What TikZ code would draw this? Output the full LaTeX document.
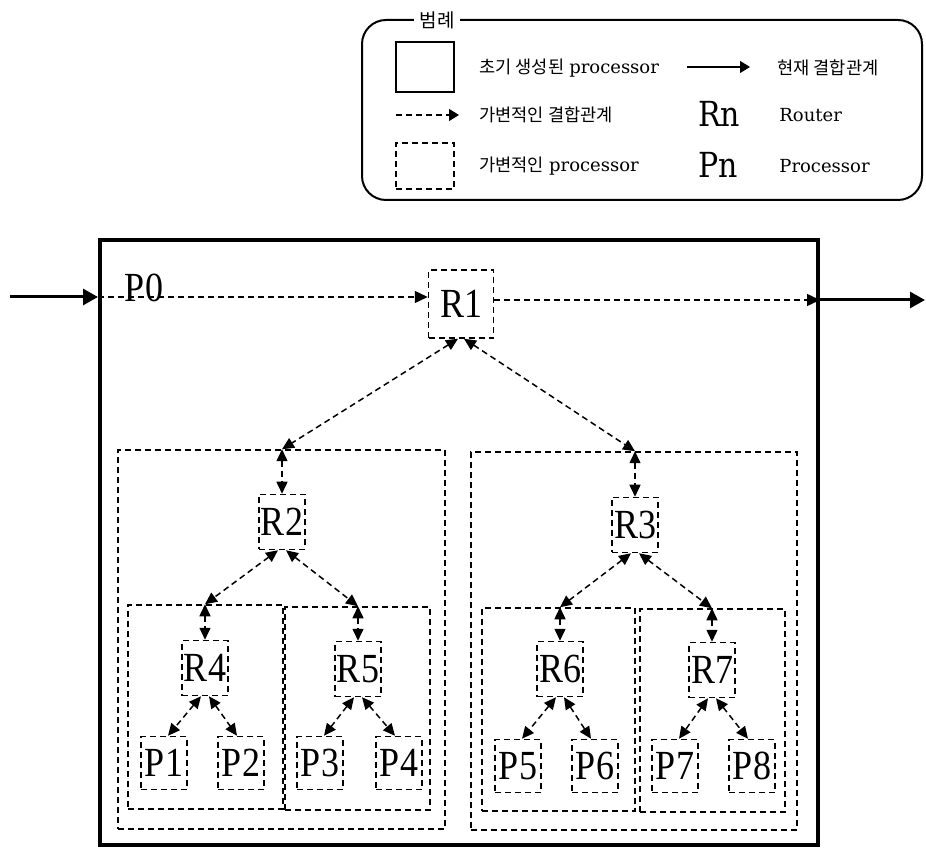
\documentclass[tikz,border=0pt]{standalone}
\usepackage{fontspec}
\usepackage{graphicx}
\setmainfont{Liberation Serif}
\newfontfamily\krfont{Noto Sans CJK KR}
\newfontfamily\lgfont{DejaVu Serif}
\usetikzlibrary{arrows.meta}

% tall Times-style labels for routers and processors
\newcommand\unitlbl[1]{\scalebox{1}[1.15]{\fontsize{18}{18}\selectfont #1}}
\newcommand\kr[1]{{\krfont\fontsize{8.8}{10}\selectfont #1}}
\newcommand\lgtxt[1]{{\lgfont\fontsize{9}{10}\selectfont #1}}
\newcommand\lgbig[1]{\scalebox{1}[1.15]{\lgfont\fontsize{15}{15}\selectfont #1}}

\tikzset{
  dashline/.style={line width=0.75pt, dash pattern=on 3pt off 2pt},
  unitbox/.style={draw, dashline, inner sep=0pt, minimum width=23pt, minimum height=27.5pt},
  gbox/.style={draw, dashline, inner sep=0pt},
  link/.style={dashline, {Triangle[length=6pt,width=5.5pt]}-{Triangle[length=6pt,width=5.5pt]}},
  flow/.style={dashline, -{Triangle[length=6.5pt,width=6pt]}},
  mainflow/.style={line width=1.5pt, -{Triangle[length=7.5pt,width=8pt]}},
  plain/.style={inner sep=0pt, anchor=west},
}

\begin{document}
\begin{tikzpicture}[x=0.5pt, y=-0.5pt]
\useasboundingbox (0,0) rectangle (926,849);

% ---------- legend ----------
\draw[line width=1pt, rounded corners=12pt] (362,20) rectangle (922,200);
\node[fill=white, inner sep=3pt] (LT) at (437,20) {{\krfont\fontsize{9.5}{10}\selectfont 범례}};
\node[draw, line width=0.9pt, inner sep=0pt, minimum width=29pt, minimum height=25pt] (LS) at (425,67) {};
\node[draw, dashline, inner sep=0pt, minimum width=29pt, minimum height=23pt] (LD) at (425,166) {};
\node[plain] (L1) at (479,68) {\kr{초기 생성된} \lgtxt{processor}};
\coordinate (LA1) at (687,67);
\coordinate (LA2) at (750,67);
\draw[line width=0.6pt, -{Triangle[length=5pt,width=6pt]}] (LA1) -- (LA2);
\node[plain] (L2) at (777,68) {\kr{현재 결합관계}};
\coordinate (LB1) at (396,115);
\coordinate (LB2) at (459,115);
\draw[dashline, line width=0.6pt, -{Triangle[length=5pt,width=6pt]}] (LB1) -- (LB2);
\node[plain] (L3) at (479,115) {\kr{가변적인 결합관계}};
\node[plain] (LR) at (698,114) {\lgbig{Rn}};
\node[plain] (LRt) at (779,115) {\lgtxt{Router}};
\node[plain] (L4) at (479,166) {\kr{가변적인} \lgtxt{processor}};
\node[plain] (LP) at (698,165) {\lgbig{Pn}};
\node[plain] (LPt) at (779,166) {\lgtxt{Processor}};

% ---------- initial processor P0 ----------
\node[draw, line width=2pt, inner sep=0pt, minimum width=359pt, minimum height=302.5pt] (M) at (459,542.5) {};
\node[inner sep=0pt] (P0) at (144,288) {\unitlbl{P0}};

% ---------- routers ----------
\node[unitbox, minimum width=32.5pt, minimum height=34pt] (R1) at (461,304) {\unitlbl{R1}};
\node[unitbox] (R2) at (282,522) {\unitlbl{R2}};
\node[unitbox] (R3) at (635,525) {\unitlbl{R3}};
\node[unitbox] (R4) at (205,668) {\unitlbl{R4}};
\node[unitbox] (R5) at (358,669) {\unitlbl{R5}};
\node[unitbox] (R6) at (560,669) {\unitlbl{R6}};
\node[unitbox] (R7) at (712,670) {\unitlbl{R7}};

% ---------- leaf processors ----------
\foreach \n/\x/\y in {1/164/763, 2/241/763, 3/320/763, 4/399/763,
                      5/518/766, 6/595/766, 7/675/766, 8/752/766}
  \node[unitbox, minimum height=26.5pt] (P\n) at (\x,\y) {\unitlbl{P\n}};

% ---------- variable processor groups ----------
\node[gbox, minimum width=163.5pt, minimum height=189.5pt] (G2) at (281.5,639.5) {};
\node[gbox, minimum width=163pt,   minimum height=189pt]   (G3) at (634,641) {};
\node[gbox, minimum width=77.5pt,  minimum height=102pt]   (G4) at (205.5,707) {};
\node[gbox, minimum width=72.5pt,  minimum height=101.5pt] (G5) at (357.5,708.5) {};
\node[gbox, minimum width=76.5pt,  minimum height=101.5pt] (G6) at (558.5,709.5) {};
\node[gbox, minimum width=72.5pt,  minimum height=101.5pt] (G7) at (712.5,710.5) {};

% entry points on the top edge of each group
\coordinate (c2) at (R2 |- G2.north);
\coordinate (c3) at (R3 |- G3.north);
\coordinate (c4) at (R4 |- G4.north);
\coordinate (c5) at (R5 |- G5.north);
\coordinate (c6) at (R6 |- G6.north);
\coordinate (c7) at (R7 |- G7.north);

% ---------- main input / output ----------
\coordinate (in)  at (10,297);
\coordinate (out) at (925,300);
\draw[mainflow] (in) -- (M.west |- in);
\draw[flow] (M.west |- in) -- (R1.west |- in);
\draw[flow] (R1.east |- out) -- (M.east |- out);
\draw[mainflow] (M.east |- out) -- (out);

% ---------- variable links ----------
\draw[link] ([xshift=-1.5pt]R1.south) -- (c2);
\draw[link] ([xshift=1.5pt]R1.south) -- (c3);
\draw[link] (c2) -- (R2.north);
\draw[link] (c3) -- (R3.north);

\draw[link] ([xshift=-2pt]R2.south) -- (c4);
\draw[link] ([xshift=2pt]R2.south) -- (c5);
\draw[link] ([xshift=-2pt]R3.south) -- (c6);
\draw[link] ([xshift=2pt]R3.south) -- (c7);
\draw[link] (c4) -- (R4.north);
\draw[link] (c5) -- (R5.north);
\draw[link] (c6) -- (R6.north);
\draw[link] (c7) -- (R7.north);

\draw[link] ([xshift=-2pt]R4.south) -- ([xshift=2pt]P1.north);
\draw[link] ([xshift=2pt]R4.south) -- ([xshift=-2pt]P2.north);
\draw[link] ([xshift=-2pt]R5.south) -- ([xshift=2pt]P3.north);
\draw[link] ([xshift=2pt]R5.south) -- ([xshift=-2pt]P4.north);
\draw[link] ([xshift=-2pt]R6.south) -- ([xshift=2pt]P5.north);
\draw[link] ([xshift=2pt]R6.south) -- ([xshift=-2pt]P6.north);
\draw[link] ([xshift=-2pt]R7.south) -- ([xshift=2pt]P7.north);
\draw[link] ([xshift=2pt]R7.south) -- ([xshift=-2pt]P8.north);
\end{tikzpicture}
\end{document}
